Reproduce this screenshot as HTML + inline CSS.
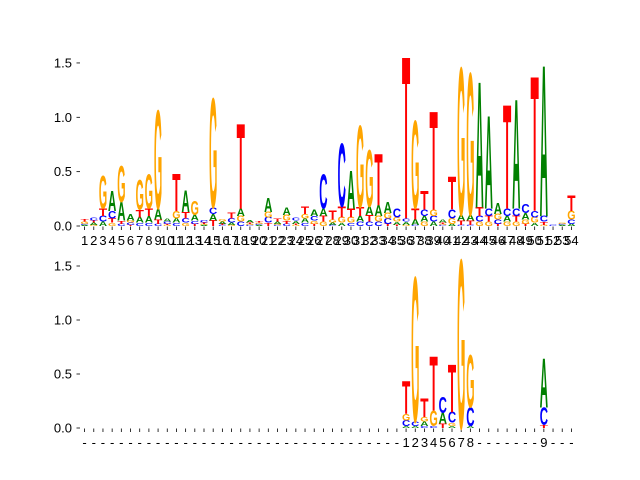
<!DOCTYPE html>
<html><head><meta charset="utf-8"><style>
body{margin:0;background:#fff}
svg{display:block;font-family:"Liberation Sans",sans-serif}
</style></head><body>
<svg id="chart" width="640" height="480"></svg>
<script>
const positions = Array.from({length:54},(_,i)=>i+1);
const topA=[.01,.02,.04,.18,.17,.06,.05,.06,.10,.03,.04,.20,.05,.01,.06,.02,.02,.07,.02,.01,.13,.02,.07,.03,.04,.06,.07,.02,.03,.35,.05,.08,.10,.10,.03,.03,.05,.05,.04,.03,.02,.05,.05,1.15,.85,.10,.05,1.0,.06,.03,1.38,0,.01,.02];
const topC=[.01,.03,.05,.07,.02,.02,.03,.03,.02,.02,.03,.04,.03,.02,.06,.01,.04,.04,.01,.01,.05,.01,.02,.03,.03,.04,.31,.01,.58,.03,.04,.04,.04,.05,.08,.03,.01,.06,.05,.01,.08,.01,.01,.05,.07,.04,.07,.07,.08,.06,.05,.01,.01,.04];
const topG=[.02,.01,.30,.03,.33,.02,.27,.31,.90,.01,.07,.03,.13,.01,1.0,.02,.01,.05,.01,.01,.05,.01,.05,.01,.04,.03,.04,.03,.05,.05,.75,.52,.05,.05,.04,.01,.80,.04,.06,.01,.05,1.35,1.30,.04,.04,.05,.04,.04,.04,.05,.01,0,.01,.08];
const topT=[.02,.02,.07,.04,.03,.01,.07,.07,.04,.01,.34,.06,.02,.01,.05,.01,.05,.78,.01,.01,.03,.03,.03,.01,.07,.02,.05,.08,.10,.08,.08,.06,.47,.02,.01,1.48,.10,.17,.90,.01,.30,.04,.04,.08,.05,.02,.95,.05,.02,1.23,.03,0,0,.14];
const botA=new Array(54).fill(0), botC=new Array(54).fill(0), botG=new Array(54).fill(0), botT=new Array(54).fill(0);
const botPos=[36,37,38,39,40,41,42,43,51];
const botAv=[.02,.02,.04,0,.10,.02,0,.02,.45];
const botCv=[.05,.04,.02,.02,.15,.10,0,.17,.16];
const botGv=[.06,1.33,.04,.14,0,.03,1.55,.48,0];
const botTv=[.30,0,.17,.50,.04,.44,0,0,.03];
const botLabels=["1","2","3","4","5","6","7","8","9"];
botPos.forEach((p,k)=>{botA[p-1]=botAv[k];botC[p-1]=botCv[k];botG[p-1]=botGv[k];botT[p-1]=botTv[k];});
const yTicks=[0,0.5,1.0,1.5];
const yTickLabels=["0.0","0.5","1.0","1.5"];

const NS="http://www.w3.org/2000/svg";
const svg=document.getElementById('chart');
const colors={A:"#008000",C:"#0000ff",G:"#ffa500",T:"#ff0000"};
const X0=80, X1=576, n=54, step=(X1-X0)/n;
function xs(i){return X0+(i+0.5)*step;}
function mk(tag,attrs,parent){const e=document.createElementNS(NS,tag);for(const k in attrs)e.setAttribute(k,attrs[k]);(parent||svg).appendChild(e);return e;}

function panel(name,zeroY,unit,A,C,G,T,labelFn){
  const g=mk('g',{});
  
  
  const ys=v=>zeroY-v*unit;
  yTicks.forEach((t,k)=>{
    const y=ys(t);
    const l=mk('line',{x1:76.5,x2:80,y1:y,y2:y,stroke:'#000','stroke-width':0.8},g);
    
    
    const tx=mk('text',{x:72,y:y+4.5,'font-size':13,'text-anchor':'end',fill:'#000'},g);
    tx.textContent=yTickLabels[k];
    
    
  });
  for(let i=0;i<n;i++){
    const cx=xs(i);
    const tk=mk('line',{x1:cx,x2:cx,y1:zeroY+0.5,y2:zeroY+4,stroke:'#000','stroke-width':0.8},g);
    
    
    const lb=mk('text',{x:cx,y:zeroY+19,'font-size':13,'text-anchor':'middle',fill:'#000'},g);
    lb.textContent=labelFn(i);
    
    
    const stack=[['A',A[i]],['C',C[i]],['G',G[i]],['T',T[i]]].filter(d=>d[1]>0).sort((a,b)=>a[1]-b[1]);
    let base=0;
    const w=step*0.9;
    stack.forEach(([ch,h])=>{
      const yb=ys(base), hp=h*unit;
      const t=mk('text',{x:0,y:0,'font-size':100,'font-weight':'bold',fill:colors[ch],textLength:100,lengthAdjust:'spacingAndGlyphs',
        transform:`translate(${cx-w/2},${yb}) scale(${w/100},${hp/69})`},g);
      t.textContent=ch;
      
      
      base+=h;
    });
  }
}
panel('top-logo',226,108.7,topA,topC,topG,topT,i=>String(positions[i]));
panel('bottom-logo',428,108,botA,botC,botG,botT,i=>{const k=botPos.indexOf(positions[i]);return k>=0?botLabels[k]:'-';});
</script>
</body></html>
